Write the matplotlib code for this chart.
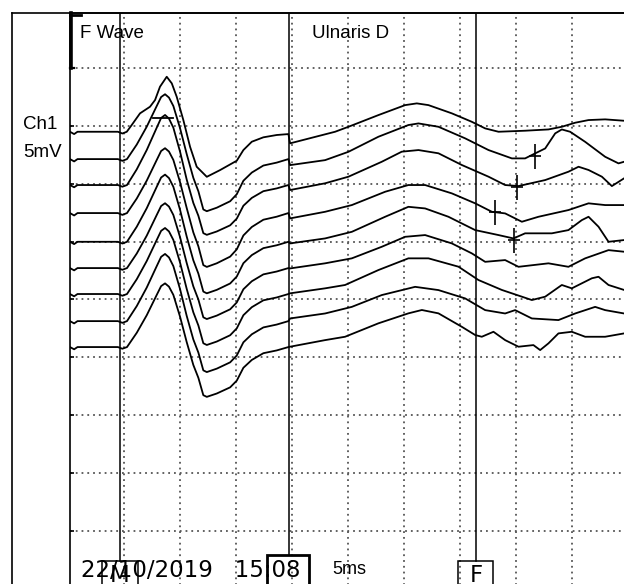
import matplotlib
matplotlib.use("Agg")
import matplotlib.pyplot as plt
from matplotlib.lines import Line2D
from matplotlib.patches import Rectangle
import numpy as np

# sweep offsets of the 9 traces (mV), top to bottom
baselines = [34.48, 32.12, 29.88, 27.46, 24.98, 22.71, 20.47, 18.13, 15.89]

# M response shared by traces 2-9 (ms, mV above the baseline)
m_t = [0.23, 0.6, 0.9, 4.5, 4.9, 5.31, 6.18, 7.07, 7.96, 8.35, 8.7, 9.05, 9.44, 10.04,
       10.63, 11.22, 11.67, 12.11, 12.42, 13.31, 14.5, 15.09, 15.68, 16.43, 17.46, 18.65, 19.69]
m_v = [0, -0.2, 0, 0, -0.15, 0, 1.3, 2.9, 4.75, 5.55, 5.8, 5.5, 4.75, 2.75,
       0.45, -1.6, -2.75, -4.3, -4.45, -4.15, -3.6, -3.0, -1.85, -1.15, -0.55, -0.3, 0]
m_peak = [5.6, 6.05, 5.6, 5.8, 5.6, 5.7, 5.8, 5.5]
m_trough = [-4.5, -4.3, -4.65, -4.45, -4.4, -4.4, -4.4, -4.3]

# trace 1 has its own M response
m1_t = [0.23, 0.6, 0.9, 4.5, 4.9, 5.29, 5.73, 6.47, 7.36, 7.81, 8.25, 8.85, 9.3, 9.74,
        10.33, 10.93, 11.52, 12.42, 13.6, 15.09, 15.68, 16.43, 17.46, 18.65, 19.69]
m1_v = [0, -0.2, 0, 0, -0.15, 0, 0.58, 1.59, 2.16, 2.74, 3.89, 4.75, 4.18, 3.02,
        1.01, -1.3, -3.02, -3.89, -3.31, -2.5, -1.58, -0.86, -0.48, -0.28, -0.2]

# late part (after the 20 ms cursor), per trace
f1_t = [19.84, 23.85, 25.04, 27.71, 30.09, 31.13, 32.17, 34.25, 36.03, 37.22, 38.41, 40.78, 42.86, 44.05, 45.24, 46.43, 47.91, 49.6]
f1_v = [-1.0, 0, 0.43, 1.44, 2.3, 2.45, 2.3, 1.59, 0.86, 0.29, 0, 0.09, 0.2, 0.43, 0.78, 1.01, 1.07, 0.95]
f2_t = [19.84, 22.96, 25.04, 27.71, 30.38, 31.28, 33.06, 35.44, 37.52, 39.6, 40.78, 41.67, 42.57, 43.46, 44.05, 44.79, 46.13, 47.91, 49.1, 49.6]
f2_v = [-0.52, -0.09, 0.63, 1.93, 2.94, 3.08, 2.79, 1.79, 0.78, 0.06, 0.06, 0.49, 0.92, 2.22, 2.56, 2.36, 1.49, 0.2, -0.37, -0.23]
f3_t = [19.84, 22.96, 25.04, 28.01, 29.79, 31.28, 33.06, 35.14, 37.52, 39.0, 40.19, 42.57, 44.64, 45.54, 46.43, 47.62, 48.51, 49.6]
f3_v = [-0.43, 0.15, 0.72, 2.01, 2.88, 3.02, 2.74, 1.73, 0.72, 0, -0.09, 0.43, 1.15, 1.58, 1.3, 0.72, -0.09, 0.58]
f4_t = [19.84, 22.96, 25.34, 28.31, 30.38, 31.87, 34.25, 36.33, 37.82, 39.0, 40.49, 41.97, 44.64, 46.43, 47.91, 49.6]
f4_v = [-0.46, 0.11, 0.69, 1.84, 2.42, 2.42, 1.7, 0.84, 0.11, -0.03, -0.75, -0.32, 0.26, 0.84, 0.69, 0.69]
f5_t = [19.84, 22.96, 25.34, 28.31, 30.38, 31.87, 33.95, 36.33, 38.41, 39.74, 40.78, 43.16, 44.64, 45.83, 46.43, 47.32, 48.21, 49.6]
f5_v = [-0.14, 0.29, 0.86, 2.16, 3.02, 2.88, 2.16, 1.01, 0.58, 0.29, 0.73, 0.73, 1.01, 1.87, 2.16, 1.3, 0, 0.15]
f6_t = [19.84, 22.96, 25.34, 28.01, 30.09, 31.87, 34.25, 36.03, 37.22, 39.0, 40.19, 42.86, 44.64, 46.13, 48.21, 49.6]
f6_v = [-0.03, 0.41, 0.84, 1.84, 2.7, 2.85, 2.13, 1.27, 0.54, 0.69, 0.11, 0.41, 0.11, 0.84, 1.55, 1.41]
f7_t = [19.84, 22.96, 24.74, 27.71, 30.38, 32.17, 34.84, 36.62, 38.71, 41.38, 42.57, 44.05, 44.94, 46.73, 47.32, 48.21, 49.6]
f7_v = [0.06, 0.49, 0.78, 2.07, 3.08, 3.08, 2.36, 1.21, 0.35, -0.52, -0.23, 0.78, 0.49, 1.36, 1.49, 0.78, 0.35]
f8_t = [19.84, 22.96, 25.34, 28.01, 30.98, 33.06, 35.44, 37.22, 39.0, 39.89, 41.38, 43.75, 45.24, 47.02, 47.91, 49.6]
f8_v = [0.23, 0.66, 1.23, 2.25, 2.96, 2.68, 1.96, 0.95, 0.66, 0.95, 0.23, 0.09, 0.66, 1.23, 0.95, 0.66]
f9_t = [19.84, 22.96, 24.74, 27.71, 30.38, 31.58, 33.06, 35.14, 36.33, 36.92, 37.96, 39.0, 40.19, 41.52, 42.12, 42.86, 43.75, 44.94, 46.13, 47.91, 49.6]
f9_v = [0.03, 0.6, 0.89, 2.05, 2.91, 3.2, 2.91, 1.75, 1.04, 0.89, 1.32, 0.6, 0.03, 0.17, -0.26, 0.32, 1.18, 1.32, 0.89, 0.89, 1.18]

late = [(f1_t, f1_v), (f2_t, f2_v), (f3_t, f3_v), (f4_t, f4_v), (f5_t, f5_v),
        (f6_t, f6_v), (f7_t, f7_v), (f8_t, f8_v), (f9_t, f9_v)]

# F-wave latency marks: trace index, time (ms), level above baseline (mV)
mark_trace = [1, 2, 3, 4]
mark_t = [41.68, 40.07, 38.1, 39.8]
mark_v = [0.26, -0.17, 0.09, 0.15]

# cursors (ms)
cursor_t = [4.69, 19.75, 36.4]

fig = plt.figure(figsize=(6.24, 5.84), dpi=100)
ax = fig.add_axes([70 / 624, -5 / 584, 558.6 / 624, 576.3 / 584])
ax.set_xlim(0.232, 50.0)
ax.set_ylim(-5.0, 44.76)

for x in range(5, 50, 5):
    ax.axvline(x, color="#555555", lw=1.3, dashes=(1, 2.2), zorder=1)
for y in range(0, 45, 5):
    ax.axhline(y, color="#555555", lw=1.3, dashes=(1, 2.2), zorder=1)

ax.set_xticks([])
ax.set_yticks(range(0, 45, 5))
ax.set_yticklabels([])
ax.tick_params(axis="y", direction="in", length=3, width=1.2, left=True, right=True)
for s in ["left", "top", "right"]:
    ax.spines[s].set_linewidth(1.2)
ax.spines["bottom"].set_visible(False)

# traces
for i, base in enumerate(baselines):
    if i == 0:
        mt, mv = np.array(m1_t), np.array(m1_v)
    else:
        mt = np.array(m_t)
        mv = np.array(m_v)
        mv = np.where(mv > 0, mv * m_peak[i - 1] / 5.8, mv * m_trough[i - 1] / -4.45)
    ft, fv = late[i]
    t = np.concatenate([mt, ft])
    v = np.concatenate([mv, fv]) + base
    ax.plot(t, v, color="black", lw=1.3, zorder=3)

# latency marks
for k, i in enumerate(mark_trace):
    ax.plot(mark_t[k], baselines[i] + mark_v[k], marker="|", ms=18, mew=1.2, color="black", zorder=4)
    ax.plot(mark_t[k], baselines[i] + mark_v[k], marker="_", ms=9, mew=1.2, color="black", zorder=4)

# peak bar on the third trace
ax.plot([7.63, 9.41], [35.66, 35.66], color="black", lw=1.3, zorder=4)

# cursors
ax.plot([cursor_t[0]] * 2, [44.76, -2.59], color="black", lw=1.1, zorder=2)
ax.plot([cursor_t[1]] * 2, [44.76, -2.07], color="black", lw=1.1, zorder=2)
ax.plot([cursor_t[2]] * 2, [44.76, -2.59], color="black", lw=1.1, zorder=2)

ax.add_patch(Rectangle((3.08, -5.5), 3.21, 2.91, fill=False, ec="black", lw=1.1, clip_on=False, zorder=5))
ax.add_patch(Rectangle((17.79, -5.5), 3.74, 3.43, fill=False, ec="black", lw=2.0, clip_on=False, zorder=5))
ax.add_patch(Rectangle((34.81, -5.5), 3.12, 2.91, fill=False, ec="black", lw=1.1, clip_on=False, zorder=5))

# 5 mV calibration bracket
ax.plot([0.3, 0.3], [40.0, 44.76], color="black", lw=2.6, clip_on=False, zorder=5)
ax.plot([0.232, 1.2], [44.6, 44.6], color="black", lw=2.0, clip_on=False, zorder=5)
ax.plot([0.232, 0.6], [40.0, 40.0], color="black", lw=1.6, clip_on=False, zorder=5)

arial = "Liberation Sans"
ax.text(1.12, 42.6, "F Wave", family=arial, fontsize=13.5, va="baseline", zorder=6)
ax.text(21.8, 42.6, "Ulnaris D", family=arial, fontsize=13.5, va="baseline", zorder=6)
ax.text(23.56, -3.71, "5ms", family=arial, fontsize=13, va="baseline", zorder=6)
ax.text(1.21, -3.95, "22/10/2019   15:08", family="DejaVu Sans", fontsize=16.5, va="baseline", zorder=6)
ax.text(4.69, -4.38, "M", family="DejaVu Sans", fontsize=16.5, ha="center", va="baseline", zorder=6)
ax.text(36.4, -4.38, "F", family="DejaVu Sans", fontsize=16.5, ha="center", va="baseline", zorder=6)

fig.text(23 / 624, 1 - 129 / 584, "Ch1", family=arial, fontsize=13.5, va="baseline")
fig.text(23 / 624, 1 - 157 / 584, "5mV", family=arial, fontsize=13.5, va="baseline")

# outer frame
fig.add_artist(Line2D([12 / 624, 12 / 624], [0, 1 - 12.7 / 584], color="black", lw=1.2))
fig.add_artist(Line2D([12 / 624, 1], [1 - 12.7 / 584, 1 - 12.7 / 584], color="black", lw=1.2))

fig.savefig("out.png", dpi=100)
